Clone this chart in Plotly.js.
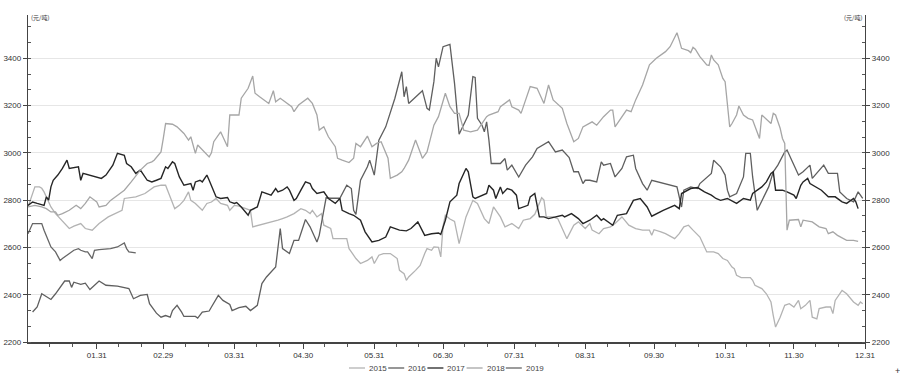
<!DOCTYPE html>
<html><head><meta charset="utf-8">
<script src="https://cdn.plot.ly/plotly-3.0.1.min.js"></script>
<style>html,body{margin:0;padding:0;background:#fff}#chart{width:900px;height:378px}</style>
</head><body><div id="chart"></div>
<script>
// x = day of year (0 = Jan 1, axis calendar of a leap year), y = price (元/吨)
const years = ['2015','2016','2017','2018','2019'];
const tickDays = [30,59,90,120,151,181,212,243,273,304,334,365];
const tickLabels = ['01.31','02.29','03.31','04.30','05.31','06.30','07.31','08.31','09.30','10.31','11.30','12.31'];
const yTicks = [2200,2400,2600,2800,3000,3200,3400];

const s2015 = [[0,2771],[2,2830],[3,2856],[5,2856],[6,2850],[7,2835],[10,2771],[12,2743],[15,2710],[18,2680],[20,2690],[23,2701],[25,2680],[28,2673],[31,2701],[35,2729],[41,2757],[42,2807],[47,2814],[51,2828],[55,2856],[58,2863],[60,2863],[62,2814],[64,2764],[66,2778],[68,2799],[70,2835],[71,2799],[73,2786],[76,2757],[78,2786],[80,2792],[82,2807],[84,2786],[87,2778],[88,2757],[90,2778],[92,2775],[95,2764],[97,2757],[98,2687],[101,2694],[104,2701],[106,2708],[109,2715],[111,2722],[113,2729],[116,2743],[118,2757],[119,2764],[121,2757],[123,2743],[124,2757],[126,2729],[128,2743],[129,2694],[132,2680],[133,2637],[139,2637],[140,2595],[141,2581],[143,2553],[145,2532],[148,2545],[150,2560],[151,2532],[153,2567],[155,2574],[158,2574],[161,2553],[162,2503],[164,2489],[165,2461],[166,2475],[169,2503],[171,2524],[173,2574],[174,2595],[176,2588],[177,2602],[179,2600],[180,2560],[181,2690],[182,2736],[184,2720],[186,2710],[188,2616],[190,2700],[191,2729],[194,2799],[196,2786],[199,2722],[201,2701],[203,2771],[206,2729],[208,2687],[211,2701],[214,2680],[216,2715],[219,2722],[221,2740],[224,2810],[225,2800],[226,2729],[229,2729],[231,2722],[233,2680],[235,2637],[238,2694],[240,2708],[243,2680],[245,2701],[246,2673],[249,2658],[251,2680],[254,2687],[256,2701],[258,2722],[259,2729],[262,2694],[265,2680],[268,2673],[271,2673],[272,2651],[273,2675],[276,2666],[278,2658],[282,2637],[284,2658],[286,2687],[288,2694],[290,2673],[293,2644],[294,2623],[296,2581],[299,2581],[301,2574],[303,2553],[305,2545],[307,2517],[308,2510],[309,2482],[311,2472],[315,2472],[316,2461],[317,2440],[320,2426],[322,2404],[324,2369],[325,2312],[326,2263],[328,2305],[330,2355],[332,2362],[334,2348],[336,2376],[337,2341],[339,2355],[341,2376],[342,2305],[344,2298],[345,2341],[348,2348],[350,2348],[351,2320],[352,2376],[355,2418],[357,2404],[360,2369],[362,2355],[363,2369],[364,2362]];

const s2016 = [[2,2327],[4,2348],[6,2404],[10,2380],[12,2404],[16,2458],[18,2458],[19,2431],[20,2453],[23,2444],[25,2449],[27,2422],[31,2458],[34,2440],[39,2436],[44,2426],[46,2383],[49,2397],[52,2401],[53,2362],[56,2322],[58,2305],[60,2312],[62,2305],[63,2333],[65,2355],[67,2326],[68,2308],[73,2308],[74,2301],[76,2326],[79,2331],[80,2348],[83,2397],[85,2376],[88,2359],[89,2333],[92,2345],[95,2351],[97,2333],[100,2355],[102,2447],[104,2475],[108,2517],[110,2680],[111,2595],[114,2574],[116,2630],[118,2630],[120,2687],[121,2718],[123,2687],[126,2623],[127,2651],[129,2757],[130,2810],[132,2808],[136,2808],[139,2863],[141,2849],[142,2757],[143,2740],[145,2884],[148,2941],[149,2969],[151,2906],[153,3054],[156,3110],[160,3231],[163,3343],[164,3237],[165,3280],[166,3209],[169,3237],[172,3263],[174,3188],[175,3181],[177,3301],[178,3400],[179,3364],[181,3449],[184,3459],[186,3294],[188,3079],[192,3160],[194,3322],[195,3319],[196,3146],[198,3117],[199,3089],[200,3131],[201,3054],[202,2955],[206,2955],[208,2976],[209,2927],[211,2948],[214,2898],[217,2948],[220,2983],[222,3019],[227,3047],[230,3004],[233,3012],[236,2980],[238,2920],[240,2920],[242,2870],[243,2884],[245,2884],[248,2877],[250,2962],[251,2948],[254,2955],[256,2898],[259,2934],[261,2983],[264,2990],[265,2934],[268,2870],[270,2842],[272,2884],[283,2856],[285,2771],[286,2842],[289,2856],[292,2849],[293,2870],[296,2898],[298,2913],[299,2969],[302,2941],[304,2906],[305,2842],[306,2814],[309,2828],[312,2898],[313,2998],[315,2998],[316,2898],[318,2757],[320,2799],[323,2856],[325,2920],[327,2948],[330,3004],[331,3012],[336,2906],[338,2920],[341,2948],[342,2892],[347,2948],[349,2913],[353,2913],[354,2835],[357,2807],[360,2793],[362,2835],[364,2807]];

const s2017 = [[0,2778],[2,2792],[4,2786],[7,2778],[8,2814],[9,2800],[10,2856],[11,2884],[13,2906],[15,2934],[17,2969],[18,2934],[22,2941],[23,2884],[24,2913],[32,2892],[34,2906],[35,2920],[37,2948],[39,2998],[42,2990],[43,2955],[45,2941],[47,2913],[49,2927],[52,2884],[54,2877],[56,2884],[58,2892],[60,2941],[61,2934],[63,2962],[64,2955],[66,2898],[68,2863],[71,2870],[72,2842],[73,2877],[75,2884],[76,2877],[78,2906],[79,2884],[81,2842],[82,2814],[84,2807],[87,2811],[88,2793],[90,2786],[91,2790],[93,2771],[96,2736],[97,2757],[100,2771],[102,2835],[106,2821],[108,2849],[109,2835],[111,2842],[113,2856],[114,2842],[116,2799],[117,2807],[119,2842],[121,2877],[123,2870],[124,2849],[126,2828],[129,2835],[131,2807],[134,2786],[136,2807],[137,2757],[140,2743],[142,2736],[145,2715],[147,2666],[150,2623],[153,2630],[156,2644],[158,2687],[162,2673],[165,2670],[167,2680],[170,2708],[173,2651],[176,2658],[179,2661],[180,2655],[182,2715],[184,2793],[187,2821],[188,2870],[190,2913],[191,2934],[192,2920],[194,2814],[195,2807],[198,2821],[200,2828],[201,2863],[203,2842],[204,2807],[206,2856],[207,2828],[209,2849],[211,2842],[213,2821],[214,2764],[218,2778],[219,2814],[221,2828],[223,2729],[225,2729],[227,2722],[230,2729],[233,2736],[234,2729],[237,2743],[240,2722],[242,2701],[245,2715],[248,2736],[250,2715],[251,2722],[255,2694],[257,2736],[261,2743],[264,2799],[267,2807],[270,2771],[272,2732],[277,2757],[282,2778],[284,2764],[285,2828],[289,2849],[292,2853],[295,2835],[298,2821],[300,2807],[302,2799],[305,2807],[309,2786],[312,2807],[315,2800],[316,2828],[320,2856],[322,2877],[324,2913],[325,2920],[326,2842],[329,2842],[331,2835],[334,2821],[335,2807],[337,2863],[338,2877],[340,2892],[341,2870],[346,2842],[349,2814],[352,2814],[355,2793],[357,2786],[360,2807],[361,2793],[362,2764]];

const s2018 = [[0,2771],[3,2778],[6,2771],[8,2764],[10,2750],[12,2750],[13,2736],[15,2743],[18,2757],[21,2778],[23,2764],[25,2786],[27,2814],[30,2792],[31,2771],[34,2778],[36,2799],[39,2821],[42,2842],[45,2877],[49,2927],[52,2955],[54,2962],[55,2969],[58,3004],[59,3061],[60,3124],[63,3121],[65,3110],[68,3082],[70,3054],[71,3068],[73,2998],[74,3033],[77,3004],[79,2983],[80,3000],[81,3047],[84,3089],[85,3068],[87,3026],[88,3160],[92,3160],[93,3231],[96,3273],[98,3325],[99,3252],[101,3237],[103,3224],[105,3209],[107,3263],[108,3216],[110,3231],[113,3209],[115,3195],[116,3174],[118,3202],[122,3231],[124,3209],[126,3160],[127,3096],[129,3110],[131,3068],[134,3026],[135,2977],[137,2969],[140,2959],[142,2977],[143,3040],[145,3026],[148,3071],[150,3026],[152,3040],[154,3047],[156,3004],[157,2977],[158,2892],[161,2906],[163,2920],[164,2934],[166,2969],[169,3054],[172,2977],[174,3004],[177,3117],[179,3153],[182,3252],[184,3195],[186,3167],[188,3167],[190,3096],[193,3089],[196,3096],[200,3153],[201,3160],[205,3174],[206,3195],[210,3224],[211,3195],[214,3181],[215,3167],[219,3280],[222,3273],[225,3209],[227,3287],[229,3224],[233,3188],[235,3124],[238,3047],[240,3061],[242,3110],[245,3124],[246,3131],[248,3117],[251,3153],[254,3181],[255,3181],[256,3110],[258,3139],[261,3181],[263,3174],[265,3224],[268,3287],[271,3372],[274,3400],[278,3428],[280,3449],[282,3485],[283,3508],[284,3477],[285,3442],[288,3432],[289,3424],[290,3446],[291,3438],[293,3407],[296,3372],[297,3370],[298,3414],[299,3393],[301,3372],[303,3315],[304,3301],[306,3110],[307,3124],[309,3160],[310,3198],[312,3160],[314,3146],[316,3139],[319,3061],[320,3160],[322,3141],[324,3124],[325,3167],[326,3160],[328,3104],[329,3061],[330,3040],[331,2673],[332,2715],[336,2718],[337,2687],[338,2715],[342,2708],[345,2687],[348,2680],[349,2658],[351,2666],[353,2651],[357,2630],[360,2630],[362,2626]];

const s2019 = [[0,2658],[2,2701],[4,2701],[6,2701],[7,2673],[9,2630],[10,2602],[12,2581],[14,2545],[15,2553],[17,2567],[19,2581],[20,2588],[22,2595],[23,2588],[25,2581],[26,2581],[28,2553],[29,2588],[31,2591],[36,2595],[39,2602],[42,2619],[43,2595],[44,2581],[47,2577]];

const seriesData = [s2015, s2016, s2017, s2018, s2019];
const colors = ['#b3b3b3', '#5f5f5f', '#262626', '#a6a6a6', '#666666'];
const widths = [1.3, 1.3, 1.4, 1.3, 1.3];

// layout geometry (pixels)
const W = 900, H = 378, ML = 28, MR = 35, MT = 15, MB = 36;
const PW = W - ML - MR, PH = H - MT - MB;
const px2x = p => (p - ML) / PW;
const py2y = p => (H - MB - p) / PH;

const traces = seriesData.map((s, i) => ({
  type: 'scatter', mode: 'lines', name: years[i],
  x: s.map(d => d[0]), y: s.map(d => d[1]),
  line: {color: colors[i], width: widths[i]},
  showlegend: false, hoverinfo: 'skip'
}));
traces.push({type: 'scatter', mode: 'lines', x: [null], y: [null], yaxis: 'y2', showlegend: false, hoverinfo: 'skip'});

// minor x ticks roughly every 10 days between month ends
const minorX = [];
[0].concat(tickDays.slice(0, -1)).forEach(t => { minorX.push(t + 9.5, t + 19.5); });

const font = {family: 'Liberation Sans, Arial, sans-serif', size: 8, color: '#333'};
const yBase = {
  range: [2200, 3583], tickmode: 'array', tickvals: yTicks, ticktext: yTicks.map(String),
  ticks: 'outside', ticklen: 4, tickwidth: 1, tickcolor: '#444',
  showline: true, linecolor: '#444', linewidth: 1.2, zeroline: false,
  tickfont: font, fixedrange: true,
  minor: {tickmode: 'linear', tick0: 2200, dtick: 200 / 3, ticks: 'inside', ticklen: 3, tickcolor: '#555', tickwidth: 1, showgrid: false}
};

const shapes = [], annotations = [];
const legX0 = 349, legStep = 39.2, legY = 368, legLen = 16;
years.forEach((yr, i) => {
  const x0 = legX0 + i * legStep;
  shapes.push({type: 'line', xref: 'paper', yref: 'paper', x0: px2x(x0), x1: px2x(x0 + legLen), y0: py2y(legY), y1: py2y(legY), line: {color: colors[i], width: 1.3}});
  annotations.push({xref: 'paper', yref: 'paper', x: px2x(x0 + legLen + 2), y: py2y(legY), xanchor: 'left', yanchor: 'middle', text: yr, showarrow: false, font: {family: font.family, size: 8, color: '#444'}});
});
annotations.push({xref: 'paper', yref: 'paper', x: 0, y: py2y(17), xanchor: 'left', yanchor: 'middle', xshift: 1, text: '(元/吨)', showarrow: false, font: {family: 'Noto Sans CJK SC, sans-serif', size: 6, color: '#333'}});
annotations.push({xref: 'paper', yref: 'paper', x: 1, y: py2y(17), xanchor: 'right', yanchor: 'middle', xshift: -1, text: '(元/吨)', showarrow: false, font: {family: 'Noto Sans CJK SC, sans-serif', size: 6, color: '#333'}});
annotations.push({xref: 'paper', yref: 'paper', x: px2x(897), y: py2y(371), xanchor: 'center', yanchor: 'middle', text: '+', showarrow: false, font: {family: font.family, size: 9, color: '#333'}});

const layout = {
  width: W, height: H, margin: {l: ML, r: MR, t: MT, b: MB, pad: 0},
  paper_bgcolor: '#fff', plot_bgcolor: '#fff', showlegend: false,
  xaxis: {
    range: [0, 365], tickmode: 'array', tickvals: tickDays, ticktext: tickLabels,
    ticks: 'outside', ticklen: 5, tickwidth: 1, tickcolor: '#444',
    showline: true, linecolor: '#444', linewidth: 1.5, showgrid: false, zeroline: false,
    tickfont: font, fixedrange: true,
    minor: {tickmode: 'array', tickvals: minorX, ticks: 'outside', ticklen: 3, tickcolor: '#555', tickwidth: 1, showgrid: false}
  },
  yaxis: Object.assign({}, yBase, {side: 'left', showgrid: true, gridcolor: '#e6e6e6', gridwidth: 1}),
  yaxis2: Object.assign({}, yBase, {side: 'right', overlaying: 'y', showgrid: false}),
  shapes: shapes, annotations: annotations
};

Plotly.newPlot('chart', traces, layout, {staticPlot: true, displayModeBar: false});
</script>
</body></html>
